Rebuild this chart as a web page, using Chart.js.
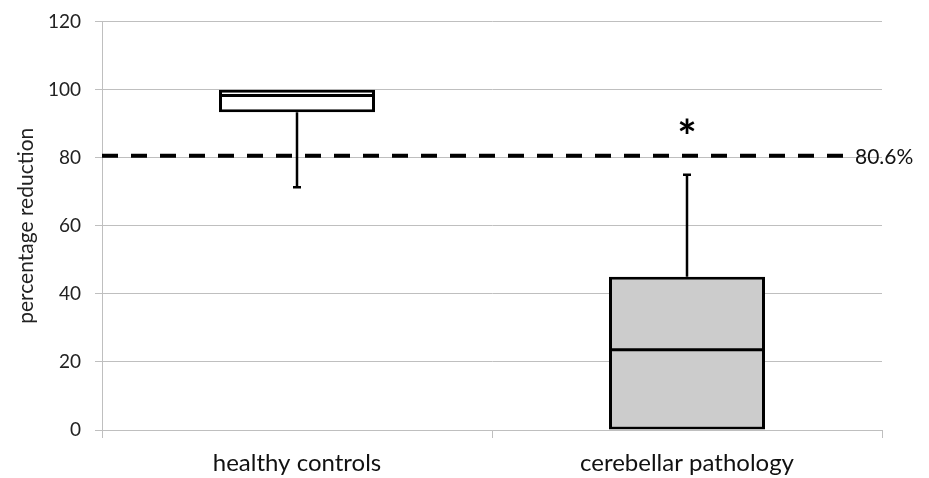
<!DOCTYPE html>
<html>
<head>
<meta charset="utf-8">
<script src="https://cdn.jsdelivr.net/npm/chart.js@4"></script>
<style>
  html, body { margin: 0; padding: 0; background: #fff; }
  #wrap { width: 929px; height: 478px; position: relative; }
</style>
</head>
<body>
<div id="wrap"><canvas id="boxChart"></canvas></div>
<script>
// box plot values
var categories = ["healthy controls", "cerebellar pathology"];
var minVals = [71.3, 0];
var q1Vals = [93.4, 0];
var medianVals = [98.3, 23.6];
var q3Vals = [100, 45];
var maxVals = [100, 75];
var boxColors = ["#ffffff", "#cccccc"];
var marks = ["", "*"];

var threshold = 80.6;
var thresholdLabel = "80.6%";
var yTicks = [0, 20, 40, 60, 80, 100, 120];

var FONT = "Lato, 'Open Sans', sans-serif";

var boxExtras = {
  id: "boxExtras",
  beforeDatasetsDraw: function (chart) {
    var ctx = chart.ctx, y = chart.scales.y, area = chart.chartArea;
    var py = y.getPixelForValue(threshold);
    ctx.save();
    ctx.strokeStyle = "#000";
    ctx.lineWidth = 4;
    ctx.setLineDash([16, 13]);
    ctx.beginPath();
    ctx.moveTo(area.left, py);
    ctx.lineTo(area.right - 36, py);
    ctx.stroke();
    ctx.setLineDash([]);
    ctx.fillStyle = "#111";
    ctx.font = "21px " + FONT;
    ctx.textBaseline = "middle";
    ctx.textAlign = "left";
    ctx.fillText(thresholdLabel, area.right - 27, py + 2);
    ctx.restore();
  },
  afterDatasetsDraw: function (chart) {
    var ctx = chart.ctx, y = chart.scales.y;
    var meta = chart.getDatasetMeta(0);
    ctx.save();
    ctx.strokeStyle = "#000";
    meta.data.forEach(function (bar, i) {
      var cx = bar.x, half = bar.width / 2;
      var ym = y.getPixelForValue(medianVals[i]);
      ctx.lineWidth = 3;
      ctx.beginPath();
      ctx.moveTo(cx - half + 1, ym);
      ctx.lineTo(cx + half - 1, ym);
      ctx.stroke();
      ctx.lineWidth = 2.5;
      // upper whisker
      if (maxVals[i] > q3Vals[i]) {
        var yt = y.getPixelForValue(q3Vals[i]), yw = y.getPixelForValue(maxVals[i]);
        ctx.beginPath();
        ctx.moveTo(cx, yt);
        ctx.lineTo(cx, yw);
        ctx.moveTo(cx - 4, yw);
        ctx.lineTo(cx + 4, yw);
        ctx.stroke();
      }
      // lower whisker
      if (minVals[i] < q1Vals[i]) {
        var yb = y.getPixelForValue(q1Vals[i]), yl = y.getPixelForValue(minVals[i]);
        ctx.beginPath();
        ctx.moveTo(cx, yb);
        ctx.lineTo(cx, yl);
        ctx.moveTo(cx - 4, yl);
        ctx.lineTo(cx + 4, yl);
        ctx.stroke();
      }
      if (marks[i]) {
        ctx.fillStyle = "#000";
        ctx.font = "bold 46px " + FONT;
        ctx.textAlign = "center";
        ctx.textBaseline = "middle";
        ctx.fillText(marks[i], cx, y.getPixelForValue(threshold) - 18);
      }
    });
    ctx.restore();
  }
};

new Chart("boxChart", {
  type: "bar",
  data: {
    labels: categories,
    datasets: [{
      data: q1Vals.map(function (v, i) { return [v, q3Vals[i]]; }),
      backgroundColor: boxColors,
      borderColor: "#000",
      borderWidth: 3,
      borderSkipped: false,
      categoryPercentage: 1,
      barPercentage: 0.4
    }]
  },
  options: {
    responsive: true,
    maintainAspectRatio: false,
    animation: false,
    layout: { padding: { top: 0, right: 47, left: 14, bottom: 0 } },
    plugins: {
      legend: { display: false },
      tooltip: { enabled: false }
    },
    scales: {
      y: {
        min: 0,
        max: 120,
        afterBuildTicks: function (scale) {
          scale.ticks = yTicks.map(function (v) { return { value: v }; });
        },
        afterFit: function (scale) { scale.width = 88; },
        grid: { color: "#bfbfbf", lineWidth: 1, tickLength: 7 },
        border: { color: "#bfbfbf" },
        ticks: { color: "#222", font: { family: FONT, size: 19, lineHeight: 0.8 }, padding: 14 },
        title: {
          display: true,
          text: "percentage reduction",
          color: "#222",
          font: { family: FONT, size: 21 },
          padding: { top: 0, bottom: 0 }
        }
      },
      x: {
        afterFit: function (scale) { scale.height = 48; },
        grid: { offset: true, drawOnChartArea: false, color: "#bfbfbf", tickLength: 8 },
        border: { color: "#bfbfbf" },
        ticks: { color: "#111", font: { family: FONT, size: 24 }, padding: 11, maxRotation: 0 }
      }
    }
  },
  plugins: [boxExtras]
});
</script>
</body>
</html>
